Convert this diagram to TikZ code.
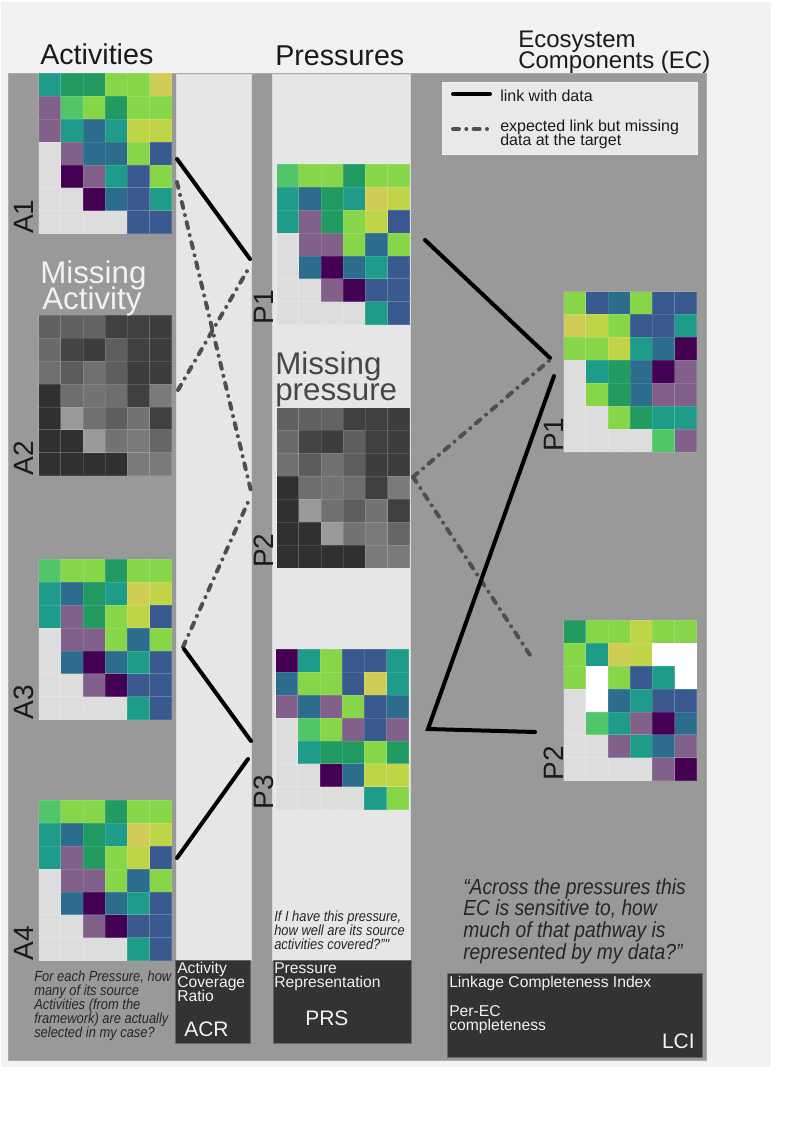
\documentclass[tikz,border=0pt]{standalone}
\usepackage{fontspec}
\setmainfont{Liberation Sans}
\newfontfamily\narrowsans[FakeStretch=0.88]{Liberation Sans}
\definecolor{dp}{HTML}{440154}
\definecolor{pu}{HTML}{81608A}
\definecolor{bl}{HTML}{3A5A8F}
\definecolor{bt}{HTML}{2C6D8E}
\definecolor{te}{HTML}{1F9C89}
\definecolor{dg}{HTML}{219B62}
\definecolor{gr}{HTML}{52C569}
\definecolor{li}{HTML}{87D549}
\definecolor{yg}{HTML}{BFD547}
\definecolor{ye}{HTML}{CFCD55}
\definecolor{lg}{HTML}{DDDDDD}
\definecolor{wh}{HTML}{FFFFFF}
\definecolor{pagebg}{HTML}{F2F2F2}
\definecolor{panel}{HTML}{999999}
\definecolor{colbg}{HTML}{E6E6E6}
\definecolor{legbg}{HTML}{E9E9E9}
\definecolor{boxbg}{HTML}{333333}
\definecolor{inktext}{HTML}{1A1A1A}
\def\mapA{{te,dg,dg,li,li,ye},{pu,gr,li,dg,li,li},{pu,te,bt,te,yg,yg},{lg,pu,bt,bt,li,bl},{lg,dp,pu,te,bl,li},{lg,lg,dp,bt,bl,te},{lg,lg,lg,lg,bl,bl}}
\def\mapB{{gr,li,li,dg,li,li},{te,bt,dg,te,ye,yg},{te,pu,dg,li,yg,bl},{lg,pu,pu,li,bt,li},{lg,bt,dp,bt,te,bl},{lg,lg,pu,dp,bl,bl},{lg,lg,lg,lg,te,bl}}
\def\mapC{{dp,te,li,bl,bl,te},{bt,li,li,bl,ye,te},{pu,bt,pu,li,bl,bt},{lg,gr,li,pu,bl,pu},{lg,te,dg,dg,li,dg},{lg,lg,dp,bt,yg,yg},{lg,lg,lg,lg,te,li}}
\def\mapD{{li,bl,bt,li,bl,bl},{ye,yg,li,bl,bl,te},{li,li,yg,te,bt,dp},{lg,te,dg,bt,dp,pu},{lg,li,dg,bt,pu,pu},{lg,lg,li,dg,te,te},{lg,lg,lg,lg,gr,pu}}
\def\mapE{{dg,li,li,yg,li,li},{li,te,ye,yg,wh,wh},{li,wh,li,bl,te,wh},{lg,wh,bt,te,bl,bl},{lg,gr,te,pu,dp,bt},{lg,lg,pu,te,bt,pu},{lg,lg,lg,lg,pu,dp}}
\def\mapG{{black!62,black!62,black!61,black!75,black!75,black!76},{black!58,black!73,black!76,black!63,black!75,black!76},{black!56,black!64,black!56,black!63,black!76,black!76},{black!81,black!57,black!55,black!57,black!75,black!52},{black!81,black!40,black!56,black!63,black!55,black!75},{black!81,black!81,black!40,black!55,black!52,black!60},{black!81,black!81,black!81,black!81,black!52,black!52}}
\newcommand\heatmap[3]{%
  \foreach \rw [count=\ri from 0] in #3 {%
    \foreach \cl [count=\ci from 0] in \rw {%
      \filldraw[fill=\cl, draw=white, draw opacity=0.12, line width=0.4pt]
        ({#1+\ci*22.2},{#2+\ri*22.95}) rectangle ++(22.2,22.95);
    }%
  }%
}
\tikzset{
  title/.style={anchor=base west, inner sep=0pt, text=inktext, font=\fontsize{21.5}{24}\selectfont},
  ectitle/.style={anchor=base west, inner sep=0pt, text=inktext, font=\fontsize{18}{20}\selectfont},
  rowlab/.style={rotate=90, anchor=base west, inner sep=0pt, text=inktext, font=\fontsize{21}{24}\selectfont},
  bigwhite/.style={anchor=base west, inner sep=0pt, text=pagebg, font=\fontsize{23.5}{24}\selectfont},
  bigdark/.style={anchor=base west, inner sep=0pt, text=black!72, font=\fontsize{23.5}{24}\selectfont},
  legtext/.style={anchor=base west, inner sep=0pt, text=inktext, font=\fontsize{12}{13}\selectfont},
  note/.style={anchor=base west, inner sep=0pt, text=black!85, font=\narrowsans\itshape\fontsize{11}{12}\selectfont},
  ecquote/.style={anchor=base west, inner sep=0pt, text=black!85, font=\narrowsans\itshape\fontsize{16.4}{17}\selectfont},
  boxtext/.style={anchor=base west, inner sep=0pt, text=pagebg, font=\fontsize{11.75}{12}\selectfont},
  boxbig/.style={anchor=base west, inner sep=0pt, text=pagebg, font=\fontsize{15.75}{17}\selectfont},
  darkbox/.style={fill=boxbg, draw=black!60, line width=0.6pt},
  colstrip/.style={fill=colbg, draw=black!15, line width=0.5pt},
  solidlink/.style={line width=3pt, draw=black, line cap=round},
  misslink/.style={line width=3pt, draw=black!69, line cap=round, dash pattern=on 4.5pt off 5.5pt on 0pt off 5.5pt},
}
\begin{document}
\begin{tikzpicture}[x=0.75pt, y=-0.75pt]
\useasboundingbox (0,0) rectangle (794,1123);
\fill[white] (0,0) rectangle (794,1123);
\fill[pagebg] (1,2) rectangle (771,1067);
\filldraw[fill=panel, draw=black!33, line width=0.5pt] (8,73) rectangle (706,1060);
% light columns
\filldraw[colstrip] (176,74) rectangle (251,960);
\filldraw[colstrip] (272,74) rectangle (410,960);
% titles
\node[title] (tact) at (40,65) {Activities};
\node[title] (tpre) at (275,66) {Pressures};
\node[ectitle] (tec1) at (518,48) {Ecosystem};
\node[ectitle] (tec2) at (518,69) {Components (EC)};
% legend
\filldraw[fill=legbg, draw=pagebg, line width=0.6pt] (442,82) rectangle (697,154);
\coordinate (ls1) at (453,94);
\coordinate (ls2) at (490,94);
\coordinate (lm1) at (453,129);
\coordinate (lm2) at (490,129);
\draw[solidlink] (ls1) -- (ls2);
\draw[misslink] (lm1) -- (lm2);
\node[legtext] (lt1) at (500,102) {link with data};
\node[legtext] (lt2) at (500,132) {expected link but missing};
\node[legtext] (lt3) at (500,145.5) {data at the target};
% heat maps
\heatmap{38.5}{73}{\mapA}
\heatmap{38.5}{315}{\mapG}
\heatmap{38.5}{559}{\mapB}
\heatmap{38.5}{800}{\mapB}
\heatmap{276.5}{164}{\mapB}
\heatmap{276.5}{407.5}{\mapG}
\heatmap{275.5}{649}{\mapC}
\heatmap{563.5}{291.5}{\mapD}
\heatmap{563.5}{620}{\mapE}
% row labels
\node[rowlab] (la1) at (33,234) {A1};
\node[rowlab] (la2) at (33,475.5) {A2};
\node[rowlab] (la3) at (33,719.5) {A3};
\node[rowlab] (la4) at (33,960.5) {A4};
\node[rowlab] (lp1) at (273,324.5) {P1};
\node[rowlab] (lp2) at (273,568) {P2};
\node[rowlab] (lp3) at (273,809.5) {P3};
\node[rowlab] (le1) at (563,452) {P1};
\node[rowlab] (le2) at (563,780.5) {P2};
% missing labels
\node[bigwhite] (ma1) at (40,283) {Missing};
\node[bigwhite] (ma2) at (42,309) {Activity};
\node[bigdark] (mp1) at (275,374) {Missing};
\node[bigdark] (mp2) at (275,400) {pressure};
% connector end points
\coordinate (a1s) at (177,159);
\coordinate (a1d) at (177,182);
\coordinate (a2d) at (178,390);
\coordinate (a3d) at (183,647);
\coordinate (a3s) at (184,649);
\coordinate (a4s) at (177,858);
\coordinate (p1s) at (250,259);
\coordinate (p1d) at (250,266);
\coordinate (p2a) at (251,491);
\coordinate (p2b) at (249,500);
\coordinate (p3a) at (251,741);
\coordinate (p3b) at (248,759);
\coordinate (p1r) at (425,240);
\coordinate (p2r) at (413,477);
\coordinate (p3r) at (428,729);
\coordinate (e1s) at (550,358);
\coordinate (e1d) at (550,360);
\coordinate (e1t) at (554,376);
\coordinate (e2d) at (532,658);
\coordinate (e2s) at (535,732);
% connectors
\draw[solidlink] (a1s) -- (p1s);
\draw[misslink] (a1d) -- (p2a);
\draw[misslink] (a2d) -- (p1d);
\draw[misslink] (a3d) -- (p2b);
\draw[solidlink] (a3s) -- (p3a);
\draw[solidlink] (a4s) -- (p3b);
\draw[solidlink] (p1r) -- (e1s);
\draw[misslink] (p2r) -- (e1d);
\draw[misslink] (p2r) -- (e2d);
\draw[solidlink] (e1t) -- (p3r) -- (e2s);
% notes
\node[note] (n1) at (34,981) {For each Pressure, how};
\node[note] (n2) at (34,995.2) {many of its source};
\node[note] (n3) at (34,1009.4) {Activities (from the};
\node[note] (n4) at (34,1023.6) {framework) are actually};
\node[note] (n5) at (34,1037.8) {selected in my case?};
\node[note] (q1) at (274,921) {If I have this pressure,};
\node[note] (q2) at (274,935.2) {how well are its source};
\node[note] (q3) at (274,949.4) {activities covered?”"};
\node[ecquote] (c1) at (463,894) {“Across the pressures this};
\node[ecquote] (c2) at (463,915.7) {EC is sensitive to, how};
\node[ecquote] (c3) at (463,937.4) {much of that pathway is};
\node[ecquote] (c4) at (463,959) {represented by my data?”};
% index boxes
\draw[darkbox] (175,960) rectangle (250,1043);
\node[boxtext] (b1) at (177,973.3) {Activity};
\node[boxtext] (b2) at (177,987.7) {Coverage};
\node[boxtext] (b3) at (177,1001.9) {Ratio};
\node[boxbig] (acr) at (184,1036.7) {ACR};
\draw[darkbox] (273,960) rectangle (411,1043);
\node[boxtext] (b4) at (274,973.3) {Pressure};
\node[boxtext] (b5) at (274,987.7) {Representation};
\node[boxbig] (prs) at (305,1025) {PRS};
\draw[darkbox] (447,973) rectangle (702,1057);
\node[boxtext] (b6) at (449,987.3) {Linkage Completeness Index};
\node[boxtext] (b7) at (449,1016) {Per-EC};
\node[boxtext] (b8) at (449,1030) {completeness};
\node[boxbig, anchor=base east] (lci) at (695,1048.3) {LCI};
\end{tikzpicture}
\end{document}
